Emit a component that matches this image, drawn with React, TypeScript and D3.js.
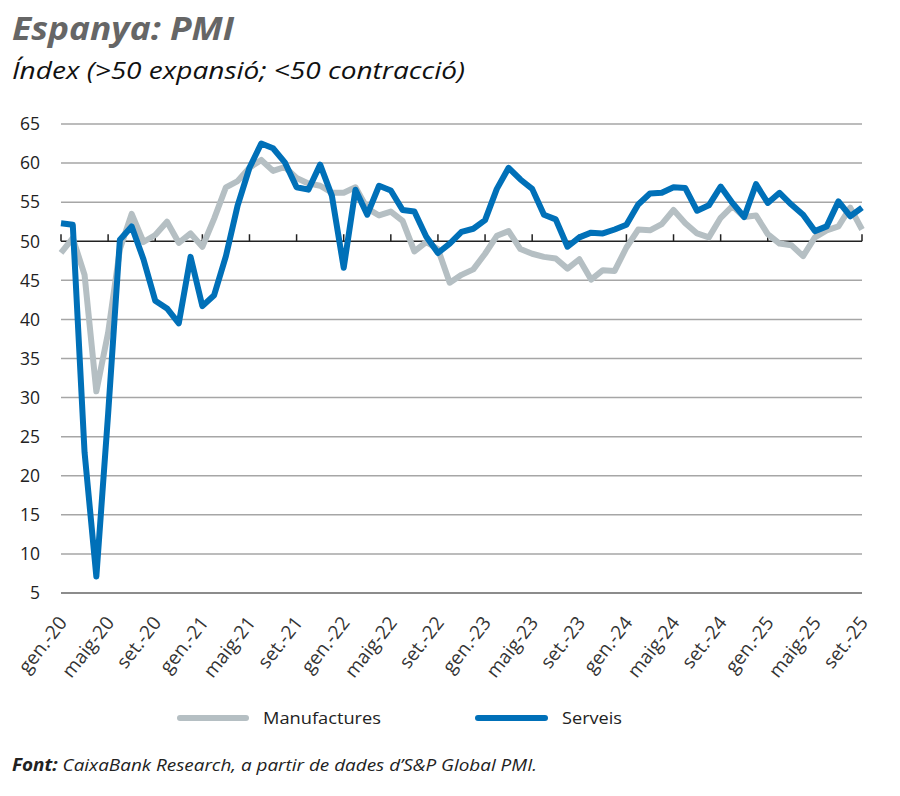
import React from "react";
import * as d3 from "d3";

// Monthly categories: gen-20 .. set-25 (69 months), labelled every 4 months
const xTickLabels = [
  "gen.-20", "maig-20", "set.-20",
  "gen.-21", "maig-21", "set.-21",
  "gen.-22", "maig-22", "set.-22",
  "gen.-23", "maig-23", "set.-23",
  "gen.-24", "maig-24", "set.-24",
  "gen.-25", "maig-25", "set.-25",
];

const manufactures = [
  48.5, 50.4, 45.7, 30.8, 38.3, 49.0, 53.5, 49.9, 50.8, 52.5, 49.8, 51.0,
  49.3, 52.9, 56.9, 57.7, 59.4, 60.4, 59.0, 59.5, 58.1, 57.4, 57.1, 56.2,
  56.2, 56.9, 54.2, 53.3, 53.8, 52.6, 48.7, 49.9, 49.0, 44.7, 45.7, 46.4,
  48.4, 50.7, 51.3, 49.0, 48.4, 48.0, 47.8, 46.5, 47.7, 45.1, 46.3, 46.2,
  49.2, 51.5, 51.4, 52.2, 54.0, 52.3, 51.0, 50.5, 53.0, 54.5, 53.1, 53.3,
  50.9, 49.7, 49.5, 48.1, 50.5, 51.4, 51.9, 54.3, 51.5,
];

const serveis = [
  52.3, 52.1, 23.0, 7.1, 27.9, 50.2, 51.9, 47.7, 42.4, 41.4, 39.5, 48.0,
  41.7, 43.1, 48.1, 54.6, 59.4, 62.5, 61.9, 60.1, 56.9, 56.6, 59.8, 55.8,
  46.6, 56.6, 53.4, 57.1, 56.5, 54.0, 53.8, 50.6, 48.5, 49.7, 51.2, 51.6,
  52.7, 56.7, 59.4, 57.9, 56.7, 53.4, 52.8, 49.3, 50.5, 51.1, 51.0, 51.5,
  52.1, 54.7, 56.1, 56.2, 56.9, 56.8, 53.9, 54.6, 57.0, 54.9, 53.1, 57.3,
  54.9, 56.2, 54.7, 53.4, 51.3, 51.9, 55.1, 53.2, 54.3,
];

const yTicks = [5, 10, 15, 20, 25, 30, 35, 40, 45, 50, 55, 60, 65];

const seriesNames = ["Manufactures", "Serveis"];

const W = 900;
const H = 796;
const FONT = "'Open Sans', 'Noto Sans', sans-serif";
const BLUE = "#0070b8";
const GREY = "#b5bfc3";

export default function App() {
  const x = d3.scaleLinear().domain([0, manufactures.length - 1]).range([61, 862]);
  const y = d3.scaleLinear().domain([5, 65]).range([593, 124]);

  const line = d3
    .line<number>()
    .x((_, i) => x(i))
    .y((d) => y(d));

  const tickIdx = xTickLabels.map((_, i) => i * 4);

  return (
    <svg
      width={W}
      height={H}
      viewBox={`0 0 ${W} ${H}`}
      style={{ position: "absolute", left: 0, top: 0, background: "#fff" }}
      fontFamily={FONT}
    >
      <text
        x={12}
        y={40}
        fontSize={32}
        fontWeight={700}
        fontStyle="italic"
        fill="#666"
        textLength={222}
        lengthAdjust="spacingAndGlyphs"
      >
        Espanya: PMI
      </text>
      <text
        x={12}
        y={79}
        fontSize={23}
        fontStyle="italic"
        fill="#111"
        textLength={453}
        lengthAdjust="spacingAndGlyphs"
      >
        Índex (&gt;50 expansió; &lt;50 contracció)
      </text>

      {/* grid */}
      {yTicks.map((t) => (
        <g key={t}>
          {t !== 50 && (
            <line
              x1={61}
              x2={862}
              y1={y(t)}
              y2={y(t)}
              stroke={t === 5 ? "#666" : "#a6a6a6"}
              strokeWidth={1.5}
            />
          )}
          <text
            x={40}
            y={y(t)}
            dy="0.36em"
            textAnchor="end"
            fontSize={17.5}
            fill="#222"
          >
            {t}
          </text>
        </g>
      ))}

      {/* 50 axis line with ticks */}
      <line x1={61} x2={862} y1={y(50)} y2={y(50)} stroke="#222" strokeWidth={1.5} />
      {tickIdx.map((i) => (
        <line key={i} x1={x(i)} x2={x(i)} y1={y(50)} y2={y(50) - 7} stroke="#222" strokeWidth={1.5} />
      ))}

      {/* x labels */}
      {tickIdx.map((i, k) => (
        <text
          key={i}
          transform={`translate(${x(i) + 7},${623}) rotate(-52)`}
          textAnchor="end"
          fontSize={19}
          fill="#333"
        >
          {xTickLabels[k]}
        </text>
      ))}

      {/* series */}
      <path
        d={line(manufactures) || ""}
        fill="none"
        stroke={GREY}
        strokeWidth={6}
        strokeLinejoin="round"
      />
      <path
        d={line(serveis) || ""}
        fill="none"
        stroke={BLUE}
        strokeWidth={6}
        strokeLinejoin="round"
      />

      {/* legend */}
      <line x1={180} x2={246} y1={718} y2={718} stroke={GREY} strokeWidth={6} strokeLinecap="round" />
      <text x={263} y={724} fontSize={17} fill="#222" textLength={118} lengthAdjust="spacingAndGlyphs">
        {seriesNames[0]}
      </text>
      <line x1={478} x2={545} y1={718} y2={718} stroke={BLUE} strokeWidth={6} strokeLinecap="round" />
      <text x={562} y={724} fontSize={17} fill="#222" textLength={60} lengthAdjust="spacingAndGlyphs">
        {seriesNames[1]}
      </text>

      {/* source */}
      <text
        x={12}
        y={771}
        fontSize={17}
        fontStyle="italic"
        fill="#222"
        textLength={525}
        lengthAdjust="spacingAndGlyphs"
      >
        <tspan fontWeight={700}>Font:</tspan>
        <tspan> CaixaBank Research, a partir de dades d’S&amp;P Global PMI.</tspan>
      </text>
    </svg>
  );
}
